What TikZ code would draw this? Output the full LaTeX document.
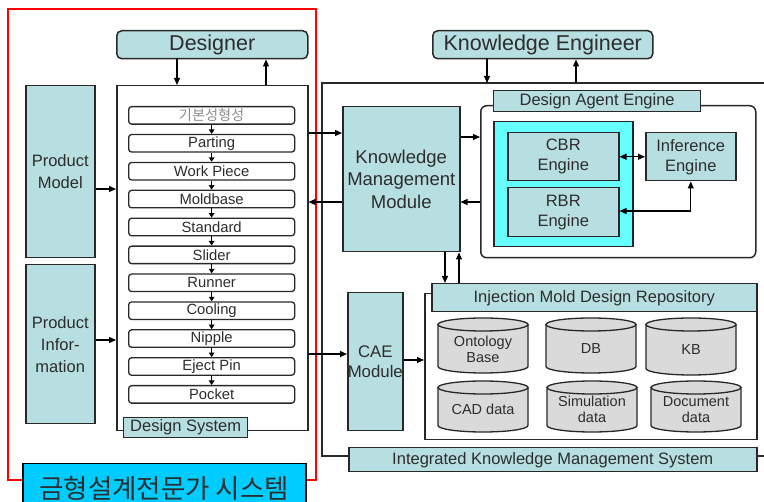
\documentclass[tikz,border=0pt]{standalone}
\usepackage{fontspec}
\setmainfont{Liberation Sans}
\newfontfamily\krfont{Noto Sans CJK KR}
\usetikzlibrary{arrows.meta}

\definecolor{tealfill}{RGB}{183,222,224}
\definecolor{cyanbright}{RGB}{102,255,255}
\definecolor{cyanlabel}{RGB}{0,204,255}
\definecolor{cylgray}{RGB}{218,218,218}
\definecolor{edge}{RGB}{40,40,40}
\definecolor{txt}{RGB}{45,45,45}

\newcommand\fs[2]{\fontsize{#1}{#2}\selectfont}

% database cylinder: name, x1, y1, x2, y2, text, text offset
\newcommand\dbcyl[7]{%
  \path[cylbody] (#2,#3+6.5) -- (#2,#5-6.5)
    arc[start angle=180,end angle=360,x radius={(#4-#2)/2*1pt},y radius=6.5pt]
    -- (#4,#3+6.5) -- cycle;
  \path[cylbody] ({(#2+#4)/2},#3+6.5) ellipse [x radius={(#4-#2)/2*1pt},y radius=6.5pt];
  \node[cyltext] (#1) at ({(#2+#4)/2},{(#3+#5)/2+#7}) {#6};
}

\tikzset{
  box/.style={draw=edge, line width=1.5pt, fill=tealfill, inner sep=0pt,
    align=center, text=txt, anchor=north west},
  plain/.style={draw=edge, line width=1.5pt, fill=white, inner sep=0pt, anchor=north west},
  stepbox/.style={draw=edge, line width=1.3pt, fill=white, rounded corners=3pt,
    inner sep=0pt, anchor=north west, minimum width=166pt, minimum height=17.5pt,
    text=txt, font=\fs{14.8}{16}},
  arr/.style={draw=black, line width=1.1pt, -{Triangle[length=7pt,width=6pt]}},
  darr/.style={draw=black, line width=1.1pt, {Triangle[length=7pt,width=6pt]}-{Triangle[length=7pt,width=6pt]}},
  sarr/.style={draw=black, line width=1.1pt, -{Triangle[length=4.5pt,width=5.5pt]}},
  cylbody/.style={draw=edge, line width=1.3pt, fill=cylgray},
  cyltext/.style={align=center, text=txt, inner sep=0pt, font=\fs{14.5}{16.5}},
}

\begin{document}
\begin{tikzpicture}[x=1pt,y=-1pt]
\useasboundingbox (0,0) rectangle (764,502);
\fill[white] (0,0) rectangle (764,502);

% ---------- design expert system (left) ----------
\draw[red, line width=1.6pt] (8,9) rectangle (316,480);

\node[box, rounded corners=5pt, minimum width=191pt, minimum height=28pt, font=\fs{21.5}{24}]
  (designer) at (116,30) {Designer};

\node[plain, minimum width=191pt, minimum height=345pt] (dsys) at (116,85) {};
\node[box, line width=1.3pt, minimum width=124pt, minimum height=20pt, font=\fs{16.5}{19}]
  (dsyslbl) at (123,417) {Design System};

\node[box, minimum width=69pt, minimum height=172pt, font=\fs{16.5}{22}]
  (pmodel) at (25,85) {Product\\Model};
\node[box, minimum width=69pt, minimum height=159pt, font=\fs{16.5}{22}]
  (pinfo) at (25,264) {Product\\Infor-\\mation};

% design steps
\node[stepbox, text=black!45, font=\krfont\fs{14.2}{16}] (s0) at (128,106.0) {기본성형성};
\node[stepbox] (s1) at (128,133.9) {Parting};
\node[stepbox] (s2) at (128,161.8) {Work Piece};
\node[stepbox] (s3) at (128,189.7) {Moldbase};
\node[stepbox] (s4) at (128,217.6) {Standard};
\node[stepbox] (s5) at (128,245.5) {Slider};
\node[stepbox] (s6) at (128,273.4) {Runner};
\node[stepbox] (s7) at (128,301.3) {Cooling};
\node[stepbox] (s8) at (128,329.2) {Nipple};
\node[stepbox] (s9) at (128,357.1) {Eject Pin};
\node[stepbox] (s10) at (128,385.0) {Pocket};
\foreach \a/\b in {s0/s1,s1/s2,s2/s3,s3/s4,s4/s5,s5/s6,s6/s7,s7/s8,s8/s9,s9/s10}
  \draw[sarr] (\a.south) -- (\b.north);

\node[draw=black, line width=1.5pt, fill=cyanlabel, inner sep=0pt, anchor=north west,
  minimum width=283pt, minimum height=50pt, text=txt, font=\krfont\fs{26.5}{30},
  text height=20pt, text depth=0pt] (kr) at (22,463) {금형설계전문가 시스템};

% ---------- integrated knowledge management system (right) ----------
\node[box, rounded corners=5pt, minimum width=220pt, minimum height=28pt, font=\fs{21.5}{24}]
  (keng) at (432,30) {Knowledge Engineer};

\draw[edge, line width=1.5pt] (770,83) -- (322,83) -- (322,456) -- (770,456);
\coordinate (ikmsTop) at (487,83);
\coordinate (ikmsTop2) at (576,83);
\node[box, minimum width=408pt, minimum height=24pt, font=\fs{16.5}{19}]
  (ikms) at (348,447) {Integrated Knowledge Management System};

\node[box, minimum width=117pt, minimum height=145pt, font=\fs{18.5}{22.5}]
  (kmm) at (342,106) {Knowledge\\Management\\Module};

% design agent engine
\node[plain, rounded corners=6pt, minimum width=275pt, minimum height=152pt] (dae) at (480,105) {};
\node[box, line width=1.3pt, minimum width=207pt, minimum height=21pt, font=\fs{16.5}{19}]
  (daelbl) at (493,90) {Design Agent Engine};
\node[draw=edge, line width=1.5pt, fill=cyanbright, inner sep=0pt, anchor=north west,
  minimum width=139pt, minimum height=125pt] (cbrrbr) at (493,121) {};
\node[box, minimum width=111pt, minimum height=48pt, font=\fs{16.5}{20}]
  (cbr) at (507,132) {CBR\\Engine};
\node[box, minimum width=111pt, minimum height=49pt, font=\fs{16.5}{20}]
  (rbr) at (507,187) {RBR\\Engine};
\node[box, minimum width=90pt, minimum height=48pt, font=\fs{16.5}{20}]
  (inf) at (645,132) {Inference\\Engine};

% repository
\node[plain, minimum width=332pt, minimum height=146pt] (repo) at (424,293) {};
\node[box, minimum width=325pt, minimum height=28pt, font=\fs{16.5}{19}]
  (repolbl) at (431,283) {Injection Mold Design Repository};

\node[box, minimum width=55pt, minimum height=138pt, font=\fs{16.8}{20}]
  (cae) at (347,292) {CAE\\Module};

\dbcyl{onto}{438}{318}{528}{373}{Ontology\\Base}{4}
\dbcyl{db}{546}{318}{636}{373}{DB}{3.5}
\dbcyl{kb}{646}{318}{736}{375}{KB}{3.5}
\dbcyl{cad}{438}{381}{528}{432}{CAD data}{3}
\dbcyl{sim}{547}{381}{637}{432}{Simulation\\data}{3}
\dbcyl{doc}{651}{381}{741}{432}{Document\\data}{3}

% ---------- connectors ----------
\draw[arr] (designer.south -| 177,0) -- (dsys.north -| 177,0);
\draw[arr] (dsys.north -| 266,0) -- (designer.south -| 266,0);
\draw[arr] (keng.south -| 487,0) -- (ikmsTop);
\draw[arr] (ikmsTop2) -- (keng.south -| 576,0);

\draw[arr] (pmodel.east |- 0,189) -- (dsys.west |- 0,189);
\draw[arr] (pinfo.east |- 0,340) -- (dsys.west |- 0,340);

\draw[arr] (dsys.east |- 0,133) -- (kmm.west |- 0,133);
\draw[arr] (kmm.west |- 0,202) -- (dsys.east |- 0,202);
\draw[arr] (dsys.east |- 0,354) -- (cae.west |- 0,354);

\draw[arr] (kmm.east |- 0,137) -- (dae.west |- 0,137);
\draw[arr] (dae.west |- 0,202) -- (kmm.east |- 0,202);

\draw[darr] (cbr.east) -- (inf.west);
\draw[darr] (inf.south) |- (rbr.east |- 0,211);

\draw[arr] (kmm.south -| 445,0) -- (repolbl.north -| 445,0);
\draw[arr] (repolbl.north -| 459,0) -- (kmm.south -| 459,0);

\draw[arr] (cae.east |- 0,360) -- (repo.west |- 0,360);
\end{tikzpicture}
\end{document}
